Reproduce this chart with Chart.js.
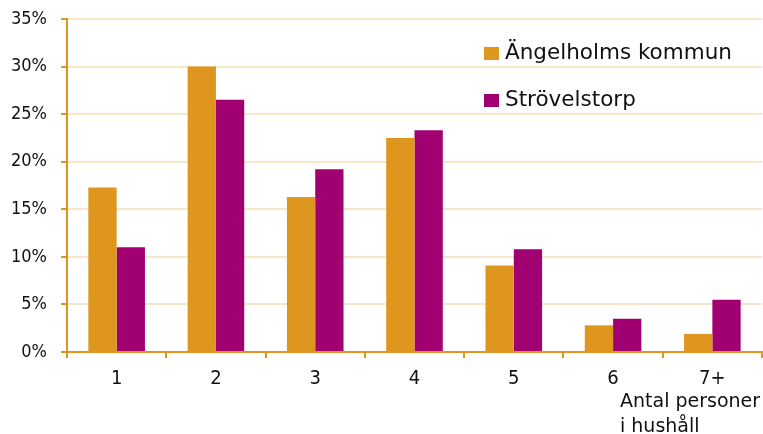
<!DOCTYPE html>
<html>
<head>
<meta charset="utf-8">
<script src="https://cdn.jsdelivr.net/npm/chart.js@4/dist/chart.umd.min.js"></script>
<style>
    body { margin: 0; background: #fff; font-family: "DejaVu Sans", sans-serif; }
    #wrap { position: relative; width: 763px; height: 434px; }
    .legend { position: absolute; left: 484px; font-size: 21.5px; color: #111; line-height: 26px; white-space: nowrap; }
    .legend span { display: inline-block; width: 15px; height: 13px; margin-right: 6px; vertical-align: -1px; }
    #axis-title { position: absolute; left: 620px; top: 388px; font-size: 19px; line-height: 25px; color: #111; white-space: nowrap; }
</style>
</head>
<body>
<div id="wrap">
    <canvas id="chart" width="763" height="434"></canvas>
    <div class="legend" style="top: 39px;"><span style="background:#DE961E"></span>Ängelholms kommun</div>
    <div class="legend" style="top: 86px;"><span style="background:#A10070"></span>Strövelstorp</div>
    <div id="axis-title">Antal personer<br>i hushåll</div>
</div>
<script>
// Andel hushåll per hushållsstorlek (%)
const categories = ["1", "2", "3", "4", "5", "6", "7+"];
const angelholm = [17.3, 30.0, 16.3, 22.5, 9.1, 2.8, 1.9];
const strovelstorp = [11.0, 26.5, 19.2, 23.3, 10.8, 3.5, 5.5];
const yTicks = [0, 5, 10, 15, 20, 25, 30, 35];

const orange = "#DE961E";
const purple = "#A10070";
const gridColor = "#F7E6C8";

const ctx = document.getElementById("chart").getContext("2d");

new Chart(ctx, {
    type: "bar",
    data: {
        labels: categories,
        datasets: [
            { label: "Ängelholms kommun", data: angelholm, backgroundColor: orange },
            { label: "Strövelstorp", data: strovelstorp, backgroundColor: purple },
        ],
    },
    options: {
        responsive: false,
        animation: false,
        categoryPercentage: 0.57,
        barPercentage: 1,
        layout: { padding: { top: 19, right: 1, left: 0, bottom: 0 } },
        plugins: {
            legend: { display: false },
            tooltip: { enabled: false },
        },
        scales: {
            x: {
                grid: {
                    offset: true,
                    drawOnChartArea: false,
                    tickColor: orange,
                    tickLength: 6,
                    lineWidth: 2,
                },
                border: { color: orange, width: 2 },
                ticks: { color: "#111", font: { family: "DejaVu Sans Condensed", size: 20 }, padding: 9 },
                afterFit: (scale) => { scale.height = 82; },
            },
            y: {
                min: 0,
                max: 35,
                afterBuildTicks: (scale) => { scale.ticks = yTicks.map((v) => ({ value: v })); },
                grid: {
                    color: gridColor,
                    lineWidth: 2,
                    tickColor: orange,
                    tickLength: 6,
                },
                border: { color: orange, width: 2 },
                ticks: {
                    color: "#111",
                    font: { family: "DejaVu Sans Condensed", size: 18 },
                    padding: 14,
                    callback: (v) => v + "%",
                },
                afterFit: (scale) => {
                    scale.width = 67;
                    scale.paddingTop = 0;
                    scale.paddingBottom = 0;
                },
            },
        },
    },
});
</script>
</body>
</html>
